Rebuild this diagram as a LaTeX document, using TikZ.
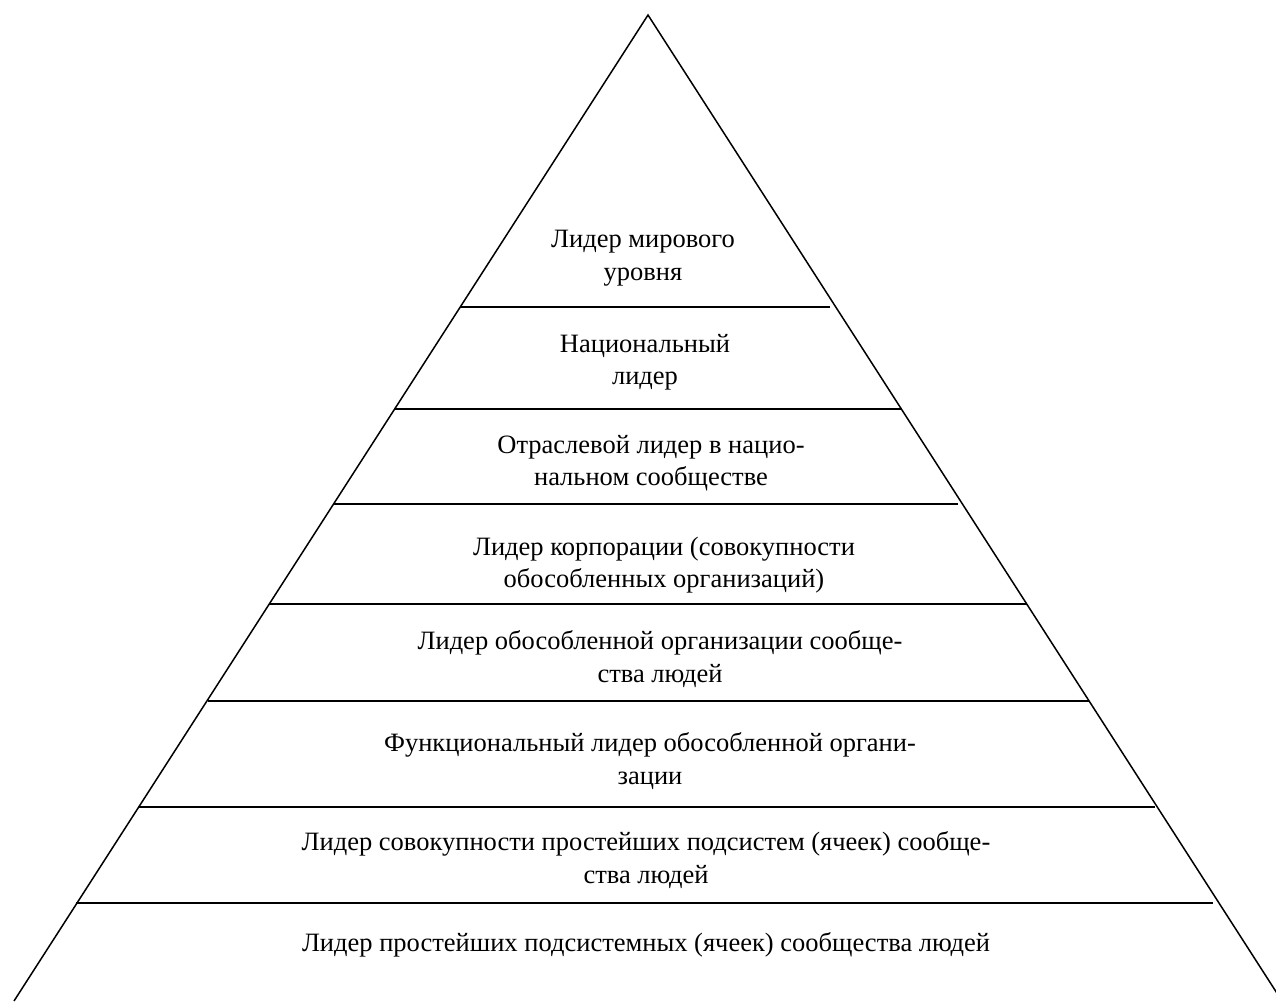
\documentclass[tikz,border=0pt]{standalone}
\usepackage{fontspec}
\setmainfont{Liberation Serif}
\begin{document}
\begin{tikzpicture}[x=1pt,y=-1pt,
  edge/.style={line width=1.5pt,black},
  tier/.style={line width=1.9pt,black},
  lbl/.style={align=center,inner sep=0pt,font=\fontsize{26.5}{32.5}\selectfont}]
\useasboundingbox (0,0) rectangle (1276,1001);
\clip (0,0) rectangle (1276,1001);
\coordinate (apex) at (648,15);
\coordinate (bl) at (14,1001);
\coordinate (br) at (1282,1001);
\draw[edge] (bl) -- (apex) -- (br);
\foreach \n/\y/\xa/\xb in {1/307/460/830,2/409/394/902,3/504/333/958,4/604/269/1027,5/701/208/1089,6/807/138/1155,7/903/76/1213}{
  \coordinate (l\n a) at (\xa,\y);
  \coordinate (l\n b) at (\xb,\y);
  \draw[tier] (l\n a) -- (l\n b);
}
\node[lbl] (t1) at (643,258) {Лидер мирового\\уровня};
\node[lbl] (t2) at (645,362) {Национальный\\лидер};
\node[lbl] (t3) at (651,463) {Отраслевой лидер в нацио-\\нальном сообществе};
\node[lbl] (t4) at (664,565) {Лидер корпорации (совокупности\\обособленных организаций)};
\node[lbl] (t5) at (660,659) {Лидер обособленной организации сообще-\\ства людей};
\node[lbl] (t6) at (650,761) {Функциональный лидер обособленной органи-\\зации};
\node[lbl] (t7) at (646,860) {Лидер совокупности простейших подсистем (ячеек) сообще-\\ства людей};
\node[lbl] (t8) at (646,945) {Лидер простейших подсистемных (ячеек) сообщества людей};
\end{tikzpicture}
\end{document}
